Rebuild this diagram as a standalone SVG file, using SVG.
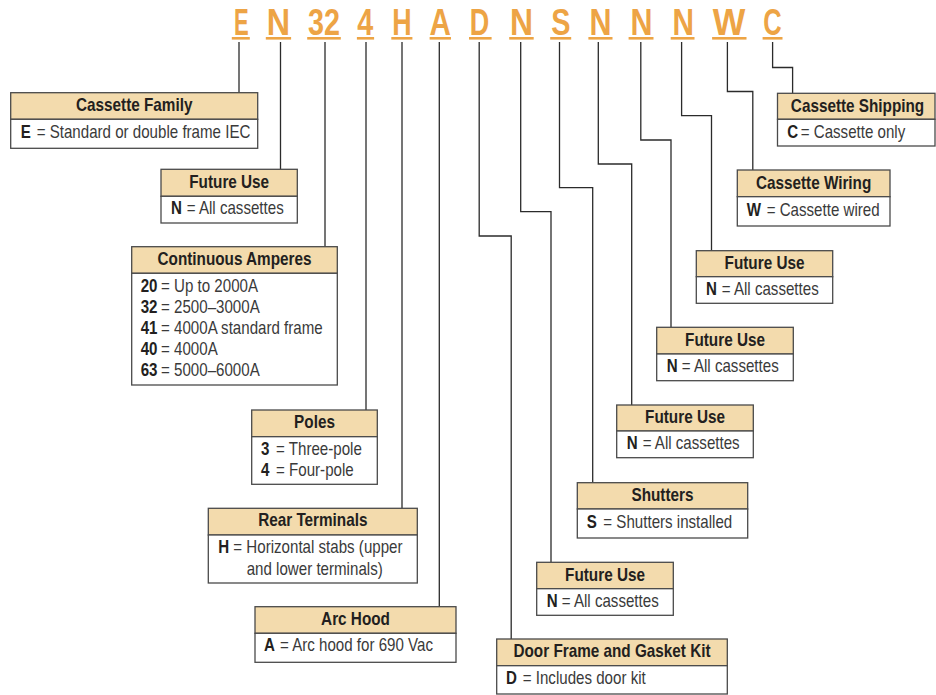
<svg xmlns="http://www.w3.org/2000/svg" width="936" height="695" viewBox="0 0 936 695">
<style>
.hd{fill:#f3dbad;stroke:#4a4a4a;stroke-width:1.3}
.bd{fill:#fff;stroke:#4a4a4a;stroke-width:1.3}
.t{font-family:"Liberation Sans",Arial,sans-serif;font-weight:bold;font-size:18px;fill:#231f20;text-anchor:middle}
.r{font-family:"Liberation Sans",Arial,sans-serif;font-size:18px;fill:#3a3a3a}
.k{font-weight:bold;fill:#231f20}
.L{font-family:"Liberation Sans",Arial,sans-serif;font-weight:bold;font-size:36px;fill:#eda445}
.u{fill:#eda445}
#connectors polyline{fill:none;stroke:#2b2b2b;stroke-width:1.3}
</style>
<g id="code">
<text class="L" x="234" y="35" textLength="14.7" lengthAdjust="spacingAndGlyphs">E</text>
<text class="L" x="266.7" y="35" textLength="23.3" lengthAdjust="spacingAndGlyphs">N</text>
<text class="L" x="308" y="35" textLength="32" lengthAdjust="spacingAndGlyphs">32</text>
<text class="L" x="357.3" y="35" textLength="16" lengthAdjust="spacingAndGlyphs">4</text>
<text class="L" x="392.3" y="35" textLength="19.4" lengthAdjust="spacingAndGlyphs">H</text>
<text class="L" x="429.6" y="35" textLength="21.4" lengthAdjust="spacingAndGlyphs">A</text>
<text class="L" x="469.8" y="35" textLength="19.5" lengthAdjust="spacingAndGlyphs">D</text>
<text class="L" x="510" y="35" textLength="23" lengthAdjust="spacingAndGlyphs">N</text>
<text class="L" x="551.3" y="35" textLength="19.2" lengthAdjust="spacingAndGlyphs">S</text>
<text class="L" x="589.6" y="35" textLength="22" lengthAdjust="spacingAndGlyphs">N</text>
<text class="L" x="630.5" y="35" textLength="22" lengthAdjust="spacingAndGlyphs">N</text>
<text class="L" x="672.4" y="35" textLength="21.5" lengthAdjust="spacingAndGlyphs">N</text>
<text class="L" x="712.8" y="35" textLength="32.6" lengthAdjust="spacingAndGlyphs">W</text>
<text class="L" x="763.3" y="35" textLength="18.4" lengthAdjust="spacingAndGlyphs">C</text>
<rect class="u" x="231.8" y="37" width="18" height="2.6"/>
<rect class="u" x="265.8" y="37" width="25.3" height="2.6"/>
<rect class="u" x="307.2" y="37" width="33.6" height="2.6"/>
<rect class="u" x="356.9" y="37" width="17.2" height="2.6"/>
<rect class="u" x="391.3" y="37" width="21.1" height="2.6"/>
<rect class="u" x="429.6" y="37" width="21.4" height="2.6"/>
<rect class="u" x="469" y="37" width="22.6" height="2.6"/>
<rect class="u" x="509.2" y="37" width="24.5" height="2.6"/>
<rect class="u" x="550.2" y="37" width="21" height="2.6"/>
<rect class="u" x="588.4" y="37" width="24.1" height="2.6"/>
<rect class="u" x="628.6" y="37" width="24.9" height="2.6"/>
<rect class="u" x="670.7" y="37" width="23.8" height="2.6"/>
<rect class="u" x="712.1" y="37" width="34.4" height="2.6"/>
<rect class="u" x="762.6" y="37" width="19.9" height="2.6"/>
</g>
<g id="connectors">
<polyline points="239,42 239,92.7"/>
<polyline points="280.5,42 280.5,169.3"/>
<polyline points="325,42 325,246.7"/>
<polyline points="366,42 366,410"/>
<polyline points="402,42 402,508.3"/>
<polyline points="439.3,42 439.3,606.7"/>
<polyline points="479.2,42 479.2,236 511.2,236 511.2,639"/>
<polyline points="520.7,42 520.7,211.7 551,211.7 551,562.3"/>
<polyline points="559.5,42 559.5,187.7 592.7,187.7 592.7,482.7"/>
<polyline points="598.3,42 598.3,164 631.7,164 631.7,405"/>
<polyline points="640.8,42 640.8,140 671,140 671,327.3"/>
<polyline points="681.6,42 681.6,115.7 711.5,115.7 711.5,250.7"/>
<polyline points="727.4,42 727.4,91.5 752.8,91.5 752.8,170"/>
<polyline points="772.6,42 772.6,67.5 792.6,67.5 792.6,93.3"/>
</g>
<g id="cassette-family">
<rect class="hd" x="10.7" y="92.7" width="247" height="26.6"/>
<rect class="bd" x="10.7" y="119.3" width="247" height="29"/>
<text class="t" transform="translate(134.2,111) scale(.85,1)">Cassette Family</text>
<text class="r" transform="translate(20.7,137.5) scale(.84,1)"><tspan class="k">E</tspan><tspan x="19">= Standard or double frame IEC</tspan></text>
</g>
<g id="future-use-1">
<rect class="hd" x="161" y="169.3" width="136.3" height="27"/>
<rect class="bd" x="161" y="196.3" width="136.3" height="26.7"/>
<text class="t" transform="translate(229.2,187.6) scale(.85,1)">Future Use</text>
<text class="r" transform="translate(171,214.3) scale(.84,1)"><tspan class="k">N</tspan><tspan x="18.7">= All cassettes</tspan></text>
</g>
<g id="continuous-amperes">
<rect class="hd" x="131.7" y="246.7" width="205.6" height="26.6"/>
<rect class="bd" x="131.7" y="273.3" width="205.6" height="111.7"/>
<text class="t" transform="translate(234.5,265) scale(.85,1)">Continuous Amperes</text>
<text class="r" transform="translate(140.7,291.5) scale(.84,1)"><tspan class="k">20</tspan><tspan x="24.2">= Up to 2000A</tspan></text>
<text class="r" transform="translate(140.7,312.5) scale(.84,1)"><tspan class="k">32</tspan><tspan x="24.2">= 2500–3000A</tspan></text>
<text class="r" transform="translate(140.7,333.5) scale(.84,1)"><tspan class="k">41</tspan><tspan x="24.2">= 4000A standard frame</tspan></text>
<text class="r" transform="translate(140.7,354.5) scale(.84,1)"><tspan class="k">40</tspan><tspan x="24.2">= 4000A</tspan></text>
<text class="r" transform="translate(140.7,375.7) scale(.84,1)"><tspan class="k">63</tspan><tspan x="24.2">= 5000–6000A</tspan></text>
</g>
<g id="poles">
<rect class="hd" x="251.7" y="410" width="125.6" height="26.7"/>
<rect class="bd" x="251.7" y="436.7" width="125.6" height="47.6"/>
<text class="t" transform="translate(314.5,428.3) scale(.85,1)">Poles</text>
<text class="r" transform="translate(261,454.5) scale(.84,1)"><tspan class="k">3</tspan><tspan x="17.9">= Three-pole</tspan></text>
<text class="r" transform="translate(261,476) scale(.84,1)"><tspan class="k">4</tspan><tspan x="17.9">= Four-pole</tspan></text>
</g>
<g id="rear-terminals">
<rect class="hd" x="208.3" y="508.3" width="209" height="26.7"/>
<rect class="bd" x="208.3" y="535" width="209" height="48"/>
<text class="t" transform="translate(312.8,526.3) scale(.85,1)">Rear Terminals</text>
<text class="r" transform="translate(218.3,553.3) scale(.84,1)"><tspan class="k">H</tspan><tspan x="17.9">= Horizontal stabs (upper</tspan></text>
<text class="r" transform="translate(246.7,575) scale(.84,1)">and lower terminals)</text>
</g>
<g id="arc-hood">
<rect class="hd" x="255" y="606.7" width="201" height="26.6"/>
<rect class="bd" x="255" y="633.3" width="201" height="29"/>
<text class="t" transform="translate(355.5,624.6) scale(.85,1)">Arc Hood</text>
<text class="r" transform="translate(264,651) scale(.84,1)"><tspan class="k">A</tspan><tspan x="19">= Arc hood for 690 Vac</tspan></text>
</g>
<g id="door-frame">
<rect class="hd" x="496.7" y="639" width="230.6" height="26.7"/>
<rect class="bd" x="496.7" y="665.7" width="230.6" height="28.3"/>
<text class="t" transform="translate(612,657) scale(.85,1)">Door Frame and Gasket Kit</text>
<text class="r" transform="translate(506,683.5) scale(.84,1)"><tspan class="k">D</tspan><tspan x="19.9">= Includes door kit</tspan></text>
</g>
<g id="future-use-2">
<rect class="hd" x="536.7" y="562.3" width="136.6" height="26.4"/>
<rect class="bd" x="536.7" y="588.7" width="136.6" height="26.6"/>
<text class="t" transform="translate(605,580.6) scale(.85,1)">Future Use</text>
<text class="r" transform="translate(546.7,606.7) scale(.84,1)"><tspan class="k">N</tspan><tspan x="17.9">= All cassettes</tspan></text>
</g>
<g id="shutters">
<rect class="hd" x="577.3" y="482.7" width="170.4" height="26.3"/>
<rect class="bd" x="577.3" y="509" width="170.4" height="29"/>
<text class="t" transform="translate(662.5,501) scale(.85,1)">Shutters</text>
<text class="r" transform="translate(586.7,527.5) scale(.84,1)"><tspan class="k">S</tspan><tspan x="19.8">= Shutters installed</tspan></text>
</g>
<g id="future-use-3">
<rect class="hd" x="616.7" y="405" width="136.6" height="26"/>
<rect class="bd" x="616.7" y="431" width="136.6" height="26.7"/>
<text class="t" transform="translate(685,423.2) scale(.85,1)">Future Use</text>
<text class="r" transform="translate(626.7,449) scale(.84,1)"><tspan class="k">N</tspan><tspan x="19">= All cassettes</tspan></text>
</g>
<g id="future-use-4">
<rect class="hd" x="656.7" y="327.3" width="136.6" height="26.7"/>
<rect class="bd" x="656.7" y="354" width="136.6" height="26.7"/>
<text class="t" transform="translate(725,345.5) scale(.85,1)">Future Use</text>
<text class="r" transform="translate(666.7,372) scale(.84,1)"><tspan class="k">N</tspan><tspan x="17.9">= All cassettes</tspan></text>
</g>
<g id="future-use-5">
<rect class="hd" x="696.3" y="250.7" width="136.4" height="26"/>
<rect class="bd" x="696.3" y="276.7" width="136.4" height="26.6"/>
<text class="t" transform="translate(764.5,268.8) scale(.85,1)">Future Use</text>
<text class="r" transform="translate(706,294.7) scale(.84,1)"><tspan class="k">N</tspan><tspan x="18.7">= All cassettes</tspan></text>
</g>
<g id="cassette-wiring">
<rect class="hd" x="737.3" y="170" width="152.7" height="26.7"/>
<rect class="bd" x="737.3" y="196.7" width="152.7" height="29.3"/>
<text class="t" transform="translate(813.6,188.5) scale(.85,1)">Cassette Wiring</text>
<text class="r" transform="translate(746.7,215.5) scale(.84,1)"><tspan class="k">W</tspan><tspan x="23.8">= Cassette wired</tspan></text>
</g>
<g id="cassette-shipping">
<rect class="hd" x="777.5" y="93.3" width="157.5" height="26"/>
<rect class="bd" x="777.5" y="119.3" width="157.5" height="26.7"/>
<text class="t" transform="translate(857.5,111.6) scale(.85,1)">Cassette Shipping</text>
<text class="r" transform="translate(787.3,137.5) scale(.84,1)"><tspan class="k">C</tspan><tspan x="16">= Cassette only</tspan></text>
</g>
</svg>
